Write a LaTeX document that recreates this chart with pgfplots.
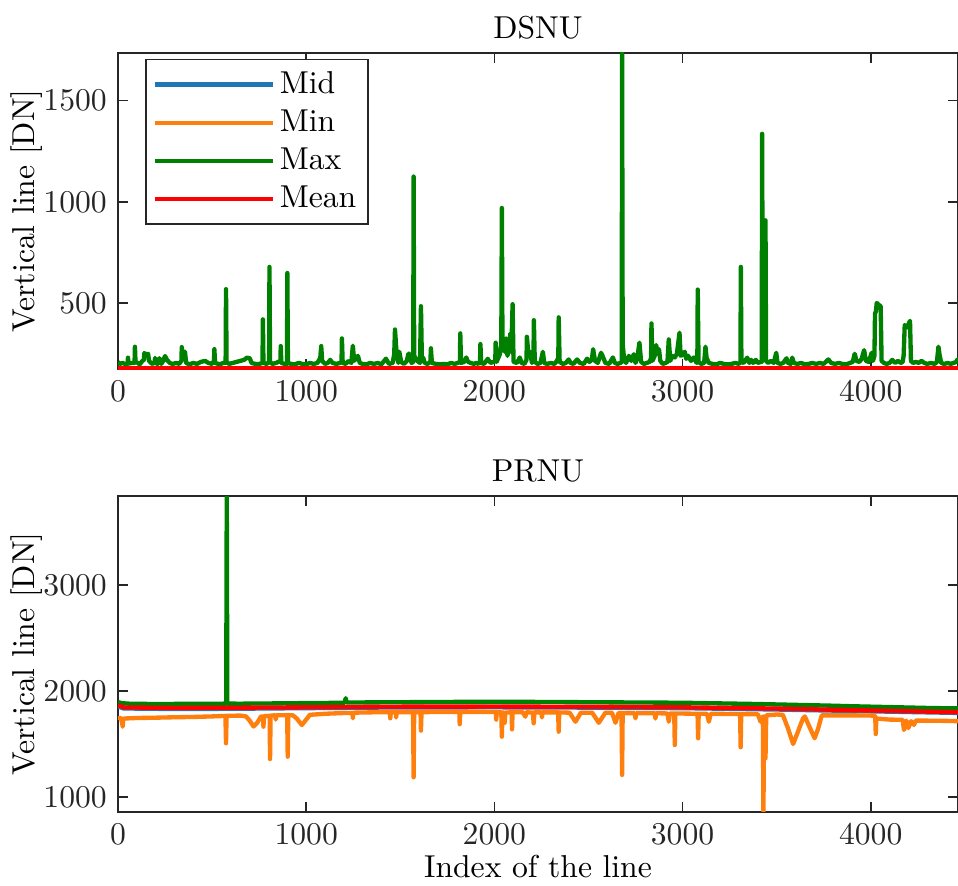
\documentclass[border=0pt]{standalone}
\usepackage{fontspec}
\usepackage{pgfplots}
\pgfplotsset{compat=1.18}
\definecolor{cMid}{HTML}{1F77B4}
\definecolor{cMin}{HTML}{FF7F0E}
\definecolor{cMax}{HTML}{008000}
\definecolor{cMean}{HTML}{FF0000}
\definecolor{axcol}{gray}{0.15}
\pgfplotsset{
  myax/.style={
    scale only axis, width=252pt, height=94.8pt,
    xmin=0, xmax=4464,
    xtick={0,1000,2000,3000,4000},
    tick align=inside,
    major tick length=3pt,
    axis line style={axcol, line width=0.5pt},
    tick style={axcol, line width=0.5pt},
    ticklabel style={text=axcol},
    scaled ticks=false,
    /pgf/number format/1000 sep={},
    /pgf/number format/assume math mode=true,
    ylabel={Vertical line [DN]},
    every axis y label/.style={at={(axis description cs:0,0.5)}, xshift=-27.3pt, rotate=90, anchor=center},
    title style={yshift=-5.1pt},
    xlabel style={yshift=3.6pt},
    every axis plot/.append style={line width=1.3pt, line join=round},
    anchor=south west,
  }
}
\begin{document}
\fontsize{9.5}{11.4}\selectfont
\begin{tikzpicture}
\begin{axis}[myax, at={(35.4pt,155.1pt)},
  title={DSNU},
  ymin=175, ymax=1735,
  ytick={500,1000,1500},
  legend style={at={(0.0321,0.982)}, anchor=north west, draw=axcol, line width=0.5pt, fill=white,
    inner xsep=2pt, inner ysep=3.5pt, row sep=3.5pt,
    nodes={inner xsep=1.5pt, inner ysep=0pt}},
  legend cell align=left,
  legend image code/.code={\draw[#1, line width=1.3pt] (0pt,0pt) -- (35.4pt,0pt);},
]
\addplot[cMid] coordinates {(0,178)(4464,178)};
\addlegendentry{Mid}
\addplot[cMin] coordinates {(0,177)(4464,177)};
\addlegendentry{Min}
\addplot[cMax] coordinates {(0,210)(10,200)(25,205)(40,198)(51,200)(53,231)(56,202)(75,205)(88,205)(90,285)(93,210)(105,205)(115,198)(130,215)(138,220)(140,254)(150,245)(160,250)(165,215)(175,205)(185,200)(195,210)(197,230)(200,205)(210,200)(220,228)(230,200)(240,215)(250,239)(260,220)(275,205)(290,200)(310,205)(325,200)(337,215)(339,283)(345,240)(356,260)(362,205)(380,198)(400,205)(420,200)(440,210)(463,215)(480,205)(500,200)(510,215)(512,273)(516,205)(540,198)(560,205)(572,205)(574,569)(577,210)(590,200)(610,205)(630,210)(650,215)(670,220)(685,231)(700,228)(710,205)(730,200)(750,200)(768,205)(770,420)(773,205)(790,200)(803,210)(805,679)(808,210)(820,200)(840,205)(863,215)(865,288)(868,205)(885,200)(898,200)(900,649)(903,205)(920,200)(940,198)(960,205)(980,200)(1000,198)(1020,205)(1040,200)(1060,205)(1075,230)(1080,288)(1085,215)(1100,200)(1115,205)(1128,220)(1140,205)(1160,200)(1180,205)(1188,210)(1190,326)(1194,205)(1210,200)(1225,215)(1240,205)(1248,290)(1255,215)(1275,240)(1285,205)(1300,200)(1320,198)(1340,205)(1360,200)(1380,205)(1400,198)(1424,226)(1440,200)(1460,205)(1468,250)(1472,370)(1480,260)(1490,205)(1495,260)(1505,210)(1520,200)(1535,215)(1543,250)(1550,250)(1560,205)(1569,210)(1571,1125)(1574,240)(1590,215)(1605,205)(1610,485)(1615,215)(1622,231)(1630,205)(1645,200)(1660,210)(1663,277)(1668,205)(1690,200)(1710,198)(1730,200)(1750,198)(1770,205)(1790,200)(1805,205)(1817,210)(1819,351)(1823,205)(1840,210)(1851,232)(1860,210)(1875,205)(1890,200)(1905,205)(1915,200)(1924,210)(1926,298)(1930,205)(1945,200)(1965,225)(1980,205)(1995,210)(2005,215)(2007,305)(2012,210)(2030,250)(2037,300)(2040,970)(2043,330)(2055,260)(2062,326)(2070,240)(2085,350)(2090,260)(2097,495)(2102,210)(2120,205)(2135,232)(2145,205)(2160,200)(2171,220)(2173,334)(2180,260)(2190,260)(2200,205)(2208,220)(2210,416)(2215,210)(2230,200)(2245,205)(2258,260)(2265,205)(2280,200)(2300,205)(2320,200)(2332,215)(2340,230)(2342,430)(2347,210)(2365,200)(2380,205)(2395,222)(2405,205)(2420,200)(2440,222)(2455,205)(2475,200)(2493,226)(2505,210)(2518,220)(2525,273)(2535,215)(2550,205)(2567,255)(2575,240)(2590,205)(2610,200)(2630,232)(2640,205)(2655,200)(2670,205)(2677,210)(2679,1733)(2682,298)(2690,220)(2700,205)(2715,240)(2728,215)(2741,248)(2750,205)(2760,230)(2771,305)(2780,210)(2795,200)(2810,205)(2825,210)(2833,230)(2835,400)(2840,215)(2852,240)(2860,293)(2868,250)(2875,273)(2882,215)(2895,200)(2910,205)(2920,210)(2927,321)(2935,215)(2945,240)(2959,232)(2970,250)(2984,354)(2990,240)(3000,245)(3012,260)(3020,225)(3030,240)(3045,215)(3060,232)(3075,205)(3079,240)(3081,567)(3085,210)(3100,200)(3115,205)(3122,285)(3128,230)(3140,205)(3160,200)(3180,198)(3200,205)(3220,200)(3240,198)(3260,200)(3280,205)(3300,200)(3308,210)(3310,679)(3313,210)(3325,205)(3344,231)(3355,205)(3365,220)(3375,205)(3390,220)(3400,205)(3415,210)(3421,210)(3423,1336)(3427,225)(3438,220)(3441,909)(3444,215)(3455,205)(3470,215)(3485,205)(3498,255)(3505,205)(3520,200)(3535,205)(3553,228)(3560,205)(3575,200)(3583,231)(3592,205)(3610,200)(3630,205)(3650,198)(3670,200)(3690,205)(3710,200)(3730,205)(3750,200)(3775,222)(3790,205)(3810,200)(3830,205)(3850,200)(3870,198)(3890,205)(3905,210)(3915,250)(3925,215)(3940,210)(3952,225)(3965,268)(3975,215)(3990,210)(4005,255)(4012,215)(4020,240)(4023,449)(4028,460)(4032,501)(4045,490)(4053,485)(4058,215)(4070,205)(4085,200)(4100,205)(4115,220)(4130,205)(4145,215)(4160,205)(4170,210)(4175,240)(4181,392)(4195,380)(4203,400)(4209,413)(4214,215)(4225,205)(4240,210)(4255,205)(4270,215)(4285,205)(4300,200)(4320,205)(4340,200)(4352,210)(4360,285)(4367,240)(4375,205)(4390,200)(4410,205)(4425,200)(4440,205)(4455,210)(4461,222)(4464,215)};
\addlegendentry{Max}
\addplot[cMean] coordinates {(0,179)(4464,179)};
\addlegendentry{Mean}
\end{axis}
\begin{axis}[myax, at={(35.4pt,22.2pt)},
  title={PRNU},
  ymin=858, ymax=3840,
  ytick={1000,2000,3000},
  xlabel={Index of the line},
]
\addplot[cMid] coordinates {(0,1855)(30,1835)(300,1830)(600,1832)(1000,1838)(1500,1845)(2000,1846)(2500,1843)(3000,1838)(3500,1825)(4000,1808)(4464,1793)};
\addplot[cMin] coordinates {(0,1745)(15,1745)(22,1700)(25,1663)(28,1740)(100,1745)(200,1748)(300,1752)(400,1755)(500,1760)(571,1765)(574,1507)(577,1765)(650,1768)(680,1760)(700,1720)(720,1665)(740,1700)(760,1760)(770,1760)(773,1663)(776,1762)(800,1765)(806,1765)(808,1358)(811,1768)(830,1770)(836,1770)(838,1730)(842,1770)(899,1772)(902,1380)(905,1772)(930,1770)(950,1740)(977,1679)(1000,1730)(1020,1775)(1100,1785)(1200,1792)(1246,1792)(1248,1742)(1251,1795)(1300,1797)(1400,1800)(1445,1800)(1447,1742)(1450,1800)(1476,1800)(1478,1750)(1481,1800)(1568,1800)(1571,1186)(1574,1800)(1608,1800)(1610,1626)(1613,1800)(1700,1802)(1814,1802)(1816,1686)(1819,1802)(1900,1803)(2008,1802)(2010,1730)(2013,1800)(2037,1800)(2040,1569)(2043,1800)(2052,1790)(2055,1700)(2058,1795)(2092,1800)(2094,1638)(2097,1800)(2150,1800)(2165,1758)(2170,1800)(2205,1795)(2209,1695)(2213,1798)(2250,1798)(2253,1750)(2256,1798)(2339,1798)(2342,1616)(2345,1798)(2400,1795)(2431,1710)(2460,1795)(2520,1795)(2555,1700)(2590,1795)(2625,1795)(2644,1700)(2660,1792)(2676,1792)(2679,1208)(2682,1792)(2745,1790)(2750,1742)(2755,1790)(2853,1790)(2856,1740)(2860,1790)(2920,1788)(2927,1710)(2933,1788)(2956,1788)(2959,1490)(2962,1788)(3080,1785)(3083,1554)(3086,1785)(3130,1785)(3140,1710)(3150,1785)(3306,1782)(3309,1469)(3312,1782)(3400,1780)(3415,1710)(3427,1760)(3430,860)(3434,1760)(3438,1760)(3441,1365)(3445,1770)(3500,1778)(3533,1775)(3560,1650)(3588,1500)(3610,1600)(3640,1740)(3650,1760)(3670,1680)(3702,1554)(3720,1640)(3740,1770)(3770,1770)(3900,1770)(4000,1768)(4024,1765)(4027,1594)(4030,1740)(4100,1730)(4170,1728)(4177,1632)(4190,1720)(4200,1650)(4215,1715)(4230,1680)(4240,1720)(4300,1720)(4400,1718)(4464,1715)};
\addplot[cMax] coordinates {(0,1895)(20,1885)(60,1880)(150,1878)(250,1877)(350,1879)(450,1878)(550,1880)(575,1881)(578,3840)(581,1881)(650,1880)(750,1882)(850,1883)(950,1885)(1050,1886)(1150,1888)(1205,1890)(1210,1932)(1215,1891)(1300,1892)(1400,1893)(1500,1894)(1600,1895)(1700,1896)(1800,1897)(1900,1897)(2000,1898)(2100,1897)(2200,1897)(2300,1896)(2400,1895)(2500,1894)(2600,1893)(2700,1892)(2800,1891)(2900,1890)(3000,1889)(3100,1886)(3200,1883)(3300,1880)(3400,1877)(3500,1873)(3600,1869)(3700,1865)(3800,1861)(3900,1856)(4000,1852)(4100,1848)(4200,1844)(4300,1840)(4400,1837)(4464,1836)};
\addplot[cMean] coordinates {(0,1865)(30,1845)(300,1840)(600,1842)(1000,1846)(1500,1852)(2000,1853)(2500,1851)(3000,1846)(3500,1834)(4000,1816)(4464,1800)};
\end{axis}
\pgfresetboundingbox
\useasboundingbox (0,0) rectangle (287.4pt,265.8pt);
\end{tikzpicture}
\end{document}
